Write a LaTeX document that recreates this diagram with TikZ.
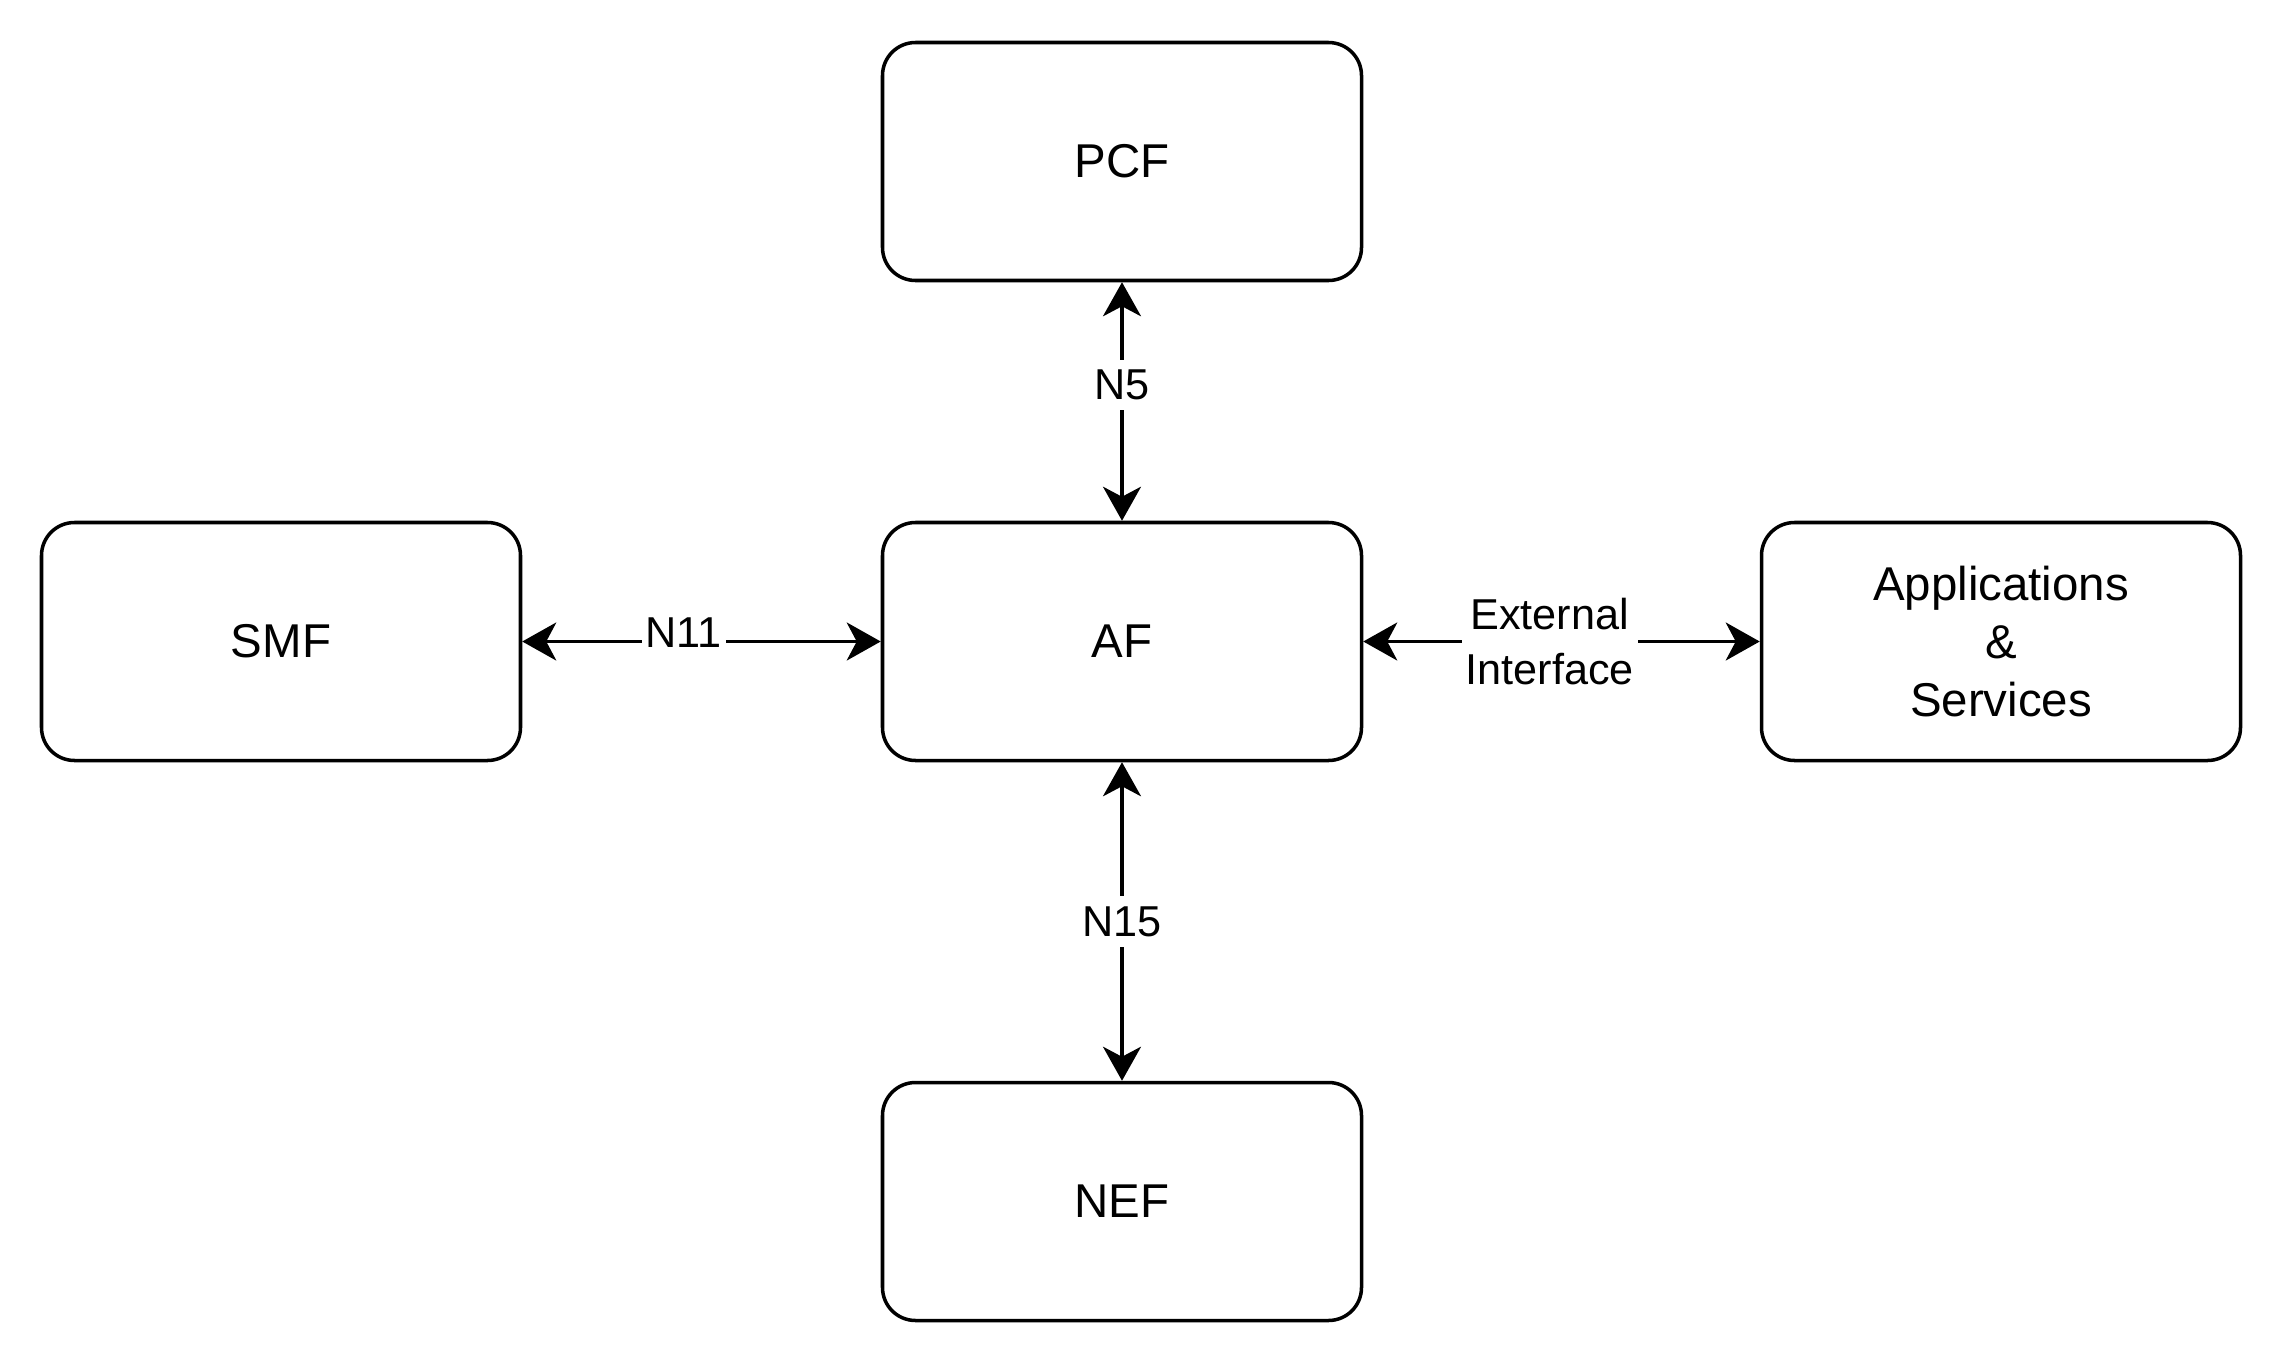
\documentclass[tikz,border=0pt]{standalone}
\usepackage{fontspec}
\setmainfont{Liberation Sans}
\usetikzlibrary{arrows.meta}

\begin{document}
\begin{tikzpicture}[>={Stealth[length=3.4mm,width=3.8mm,inset=1mm]}]

% Stili per i blocchi e le interfacce
\tikzset{nfbox/.style={draw, line width=1pt, rounded corners=0.33cm, minimum width=4.79cm, minimum height=2.38cm, align=center, font=\fontsize{13.5}{16.6}\selectfont},
  iflabel/.style={fill=white, inner xsep=0.04cm, inner ysep=0.1cm, align=center, font=\fontsize{12.3}{15.8}\selectfont},
  iflink/.style={<->, line width=1pt}}

% Area del disegno
\useasboundingbox (0,0) rectangle (22.88,-13.68);

% --- Funzioni di rete ---
\node[nfbox] (pcf) at (11.22,-1.615) {PCF};
\node[nfbox] (af) at (11.22,-6.415) {AF};
\node[nfbox] (nef) at (11.22,-12.015) {NEF};
\node[nfbox] (smf) at (2.81,-6.415) {SMF};
\node[nfbox] (apps) at (20.01,-6.415) {Applications\\\&\\Services};

% --- Interfacce ---
\draw[iflink] (af) -- node[iflabel, pos=0.57] {N5} (pcf);
\draw[iflink] (af) -- node[iflabel] {N15} (nef);
\draw[iflink] (smf) -- node[iflabel, pos=0.45, yshift=0.09cm] {N11} (af);
\draw[iflink] (af) -- node[iflabel, pos=0.47] {External\\Interface} (apps);
\end{tikzpicture}
\end{document}
